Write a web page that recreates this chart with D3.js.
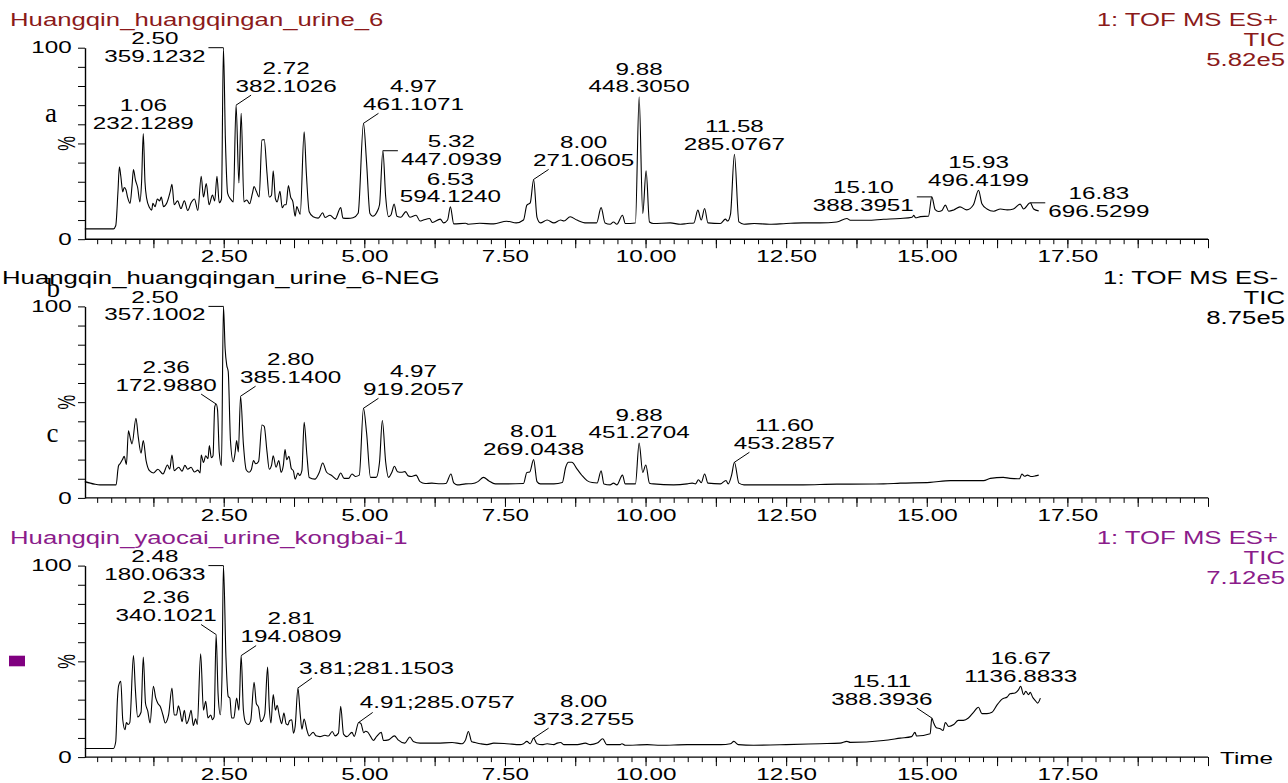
<!DOCTYPE html>
<html>
<head>
<meta charset="utf-8">
<script src="https://cdn.jsdelivr.net/npm/d3@7"></script>
<style>
  body { margin: 0; background: #fff; }
  svg text { font-family: 'Liberation Sans', Arial, Helvetica, sans-serif; }
</style>
</head>
<body>
<script>

// ---- data (retention time in min, % of base peak) ----

const titles = ['Huangqin_huangqingan_urine_6', 'Huangqin_huangqingan_urine_6-NEG', 'Huangqin_yaocai_urine_kongbai-1'];
const scanModes = ['1: TOF MS ES+', '1: TOF MS ES-', '1: TOF MS ES+'];
const traceType = ['TIC', 'TIC', 'TIC'];
const intensities = ['5.82e5', '8.75e5', '7.12e5'];
const letters = [['a'], ['b', 'c'], []];

const xTickValues = [2.5, 5, 7.5, 10, 12.5, 15, 17.5];
const xTickLabels = ['2.50', '5.00', '7.50', '10.00', '12.50', '15.00', '17.50'];
const yTickLabels = ['0', '100'];

const tracePos = [[0.03,5.4],[0.54,5.4],[0.58,7],[0.62,25],[0.645,37.8],[0.67,33],[0.705,24.7],[0.73,27],[0.76,26],[0.79,22],[0.835,18.7],[0.87,28],[0.895,36.4],[0.93,31],[0.97,27],[1.01,19.5],[1.04,30],[1.07,55.2],[1.10,30],[1.13,21.3],[1.18,16.5],[1.22,15.2],[1.24,18.7],[1.28,17],[1.32,21],[1.36,20],[1.39,22],[1.43,17],[1.49,19],[1.55,25],[1.58,28.7],[1.62,18],[1.68,20],[1.74,16],[1.80,20],[1.86,15],[1.92,19],[1.98,21],[2.04,15],[2.10,32.9],[2.14,22],[2.19,29],[2.24,18],[2.30,23],[2.34,20],[2.38,32.9],[2.42,19],[2.46,21],[2.495,100],[2.53,52],[2.57,23.9],[2.62,21],[2.67,19.5],[2.72,70],[2.77,29.4],[2.81,65.7],[2.86,19.5],[2.91,20.5],[2.96,18.5],[3.01,23.9],[3.04,27.5],[3.08,25],[3.13,22],[3.18,51.8],[3.22,52],[3.27,34.3],[3.31,22],[3.35,23],[3.38,35.7],[3.42,21],[3.45,19.5],[3.50,25],[3.54,16.4],[3.58,18],[3.61,18],[3.65,28],[3.69,22],[3.73,19.5],[3.77,12],[3.80,17],[3.83,15],[3.86,13],[3.93,56.1],[3.97,34],[4.02,14.3],[4.09,11.7],[4.18,11],[4.26,13.8],[4.30,11.3],[4.39,12.5],[4.48,10.6],[4.58,16.5],[4.62,11],[4.71,10.9],[4.80,11.2],[4.89,13.5],[4.985,60.5],[5.04,40],[5.10,13.4],[5.15,12],[5.22,14],[5.27,18],[5.33,46.2],[5.38,22],[5.43,11.8],[5.47,12.5],[5.53,18.3],[5.58,12],[5.65,11.5],[5.74,14.4],[5.81,11.5],[5.92,12.5],[5.99,9.5],[6.05,10],[6.16,10.8],[6.21,8.7],[6.35,10.5],[6.41,8.5],[6.48,10],[6.53,16.9],[6.59,8.0],[6.8,8.3],[6.85,7.8],[7.05,8.3],[7.3,8],[7.53,9.4],[7.7,8.5],[7.83,10],[7.89,17.8],[7.95,19],[8.01,31.2],[8.07,11.4],[8.13,8.5],[8.25,10],[8.37,8.5],[8.49,10],[8.55,9.5],[8.66,11.7],[8.78,10],[8.95,8.5],[9.13,8.5],[9.21,16.5],[9.28,8.5],[9.37,7.8],[9.43,9],[9.49,7.8],[9.59,12.5],[9.64,8.2],[9.82,8.5],[9.886,74.4],[9.95,13.4],[10.01,35.7],[10.07,9],[10.14,8.2],[10.44,8.5],[10.62,7.8],[10.74,8.2],[10.86,8.5],[10.93,15.2],[10.99,10],[11.05,16],[11.11,8.5],[11.33,8.2],[11.42,10.5],[11.46,9.5],[11.51,13],[11.58,44.3],[11.66,9],[11.75,7.8],[11.93,8.2],[12.2,7.8],[12.5,8.2],[12.8,8.5],[13.1,8.5],[13.4,9],[13.58,10.8],[13.64,9.9],[13.94,9.9],[14.23,10.4],[14.53,10.8],[14.74,11.5],[14.77,12.5],[14.80,11.2],[14.89,11.8],[15.03,12],[15.09,22.1],[15.15,15.4],[15.21,14.5],[15.27,15],[15.33,17.8],[15.39,14.6],[15.48,15.3],[15.59,16.9],[15.71,15.3],[15.83,18],[15.92,25.6],[15.98,18.5],[16.07,15.8],[16.19,14.6],[16.31,15.8],[16.43,15.3],[16.54,15.8],[16.66,18.3],[16.72,15.8],[16.84,19],[16.90,15.8],[16.99,14.8]];

const traceNeg = [[0.03,8.5],[0.2,7.2],[0.3,6.8],[0.587,6.8],[0.62,15],[0.63,16.8],[0.66,18],[0.70,20],[0.73,21.7],[0.77,17.5],[0.806,35.1],[0.84,31],[0.87,28.2],[0.94,41.6],[0.98,32],[1.03,23.4],[1.07,29.9],[1.12,19.5],[1.18,14.2],[1.25,13],[1.33,15],[1.42,12.5],[1.5,17.2],[1.54,15],[1.58,22.4],[1.62,14.2],[1.70,16],[1.76,14],[1.81,17],[1.86,15],[1.92,16],[1.98,13.5],[2.04,14.5],[2.08,13],[2.10,22.4],[2.14,18.5],[2.18,22],[2.22,20.5],[2.245,27.3],[2.28,21],[2.31,22],[2.34,47.5],[2.365,49],[2.39,46],[2.42,24],[2.46,16.8],[2.495,100],[2.525,78],[2.555,69.1],[2.58,66],[2.62,30],[2.67,18.9],[2.70,23],[2.73,29.9],[2.76,24],[2.80,53.1],[2.85,28],[2.90,14.7],[2.95,13.4],[2.99,14.7],[3.03,19.5],[3.07,17.8],[3.12,19],[3.18,38.1],[3.22,37.4],[3.27,24],[3.31,15],[3.35,17],[3.38,22],[3.43,16],[3.48,19.5],[3.52,13.4],[3.56,17],[3.59,25.2],[3.62,20],[3.66,21.7],[3.70,15.5],[3.74,14],[3.77,9.8],[3.82,13],[3.85,11.7],[3.89,14.2],[3.93,39.5],[3.98,22],[4.02,10.7],[4.12,9.8],[4.20,13.4],[4.26,18.2],[4.33,13.4],[4.42,11.7],[4.51,9.6],[4.58,13],[4.64,10.2],[4.72,10.2],[4.78,12.5],[4.84,11.2],[4.91,11.9],[4.985,46.8],[5.04,34],[5.11,10.7],[5.21,10.7],[5.27,18.6],[5.32,40.4],[5.38,18.6],[5.43,10.7],[5.49,13.4],[5.535,16.5],[5.59,13.7],[5.66,13.4],[5.72,13.7],[5.78,11.5],[5.84,11.2],[5.92,11.9],[5.99,8.5],[6.08,7.5],[6.2,7.7],[6.35,7.4],[6.45,7.5],[6.54,12.5],[6.59,7.8],[6.65,6.8],[6.8,7.3],[6.93,7.5],[7.02,8.5],[7.12,10.7],[7.21,9],[7.33,7.3],[7.53,7.3],[7.83,7.5],[7.89,13.3],[7.94,13.5],[8.01,20],[8.07,8.5],[8.13,7.3],[8.37,7.3],[8.52,8],[8.58,16],[8.63,18.6],[8.69,18.6],[8.78,15.2],[8.87,11.7],[8.96,9],[9.05,8],[9.14,7.8],[9.21,14.2],[9.26,7.3],[9.37,6.8],[9.43,7.7],[9.49,6.8],[9.59,11.9],[9.64,7.3],[9.82,7.3],[9.886,28.7],[9.95,13.3],[10.005,17.2],[10.07,7.7],[10.14,7.3],[10.5,6.8],[10.74,7.3],[10.83,7.7],[10.89,7.3],[10.94,9.5],[10.99,8],[11.05,12.5],[11.11,7.7],[11.33,7.3],[11.43,9.1],[11.47,7.3],[11.53,11.9],[11.58,18.6],[11.66,7.7],[11.75,6.8],[12.2,6.8],[12.8,6.8],[13.4,7.2],[13.64,7.2],[14.23,7.3],[14.53,7.7],[15.06,8.1],[15.42,9],[16.01,9],[16.13,10.2],[16.36,10.7],[16.48,10.2],[16.65,10],[16.69,12.5],[16.74,11.3],[16.79,11.9],[16.85,11.2],[16.93,11.5],[16.99,11.9]];

const traceBlank = [[0.03,4.5],[0.54,4.5],[0.58,8],[0.61,30],[0.63,37],[0.67,39.6],[0.705,19.5],[0.745,14.3],[0.77,18],[0.80,17],[0.83,18],[0.895,53],[0.93,35],[0.97,21],[1.03,23.4],[1.07,52.3],[1.11,28],[1.15,24],[1.19,17.8],[1.25,37],[1.29,31],[1.33,28],[1.37,26.5],[1.42,22],[1.46,17.8],[1.52,22],[1.58,36.1],[1.62,22],[1.66,22],[1.695,26.8],[1.72,24.5],[1.76,18.5],[1.80,24.5],[1.84,17.5],[1.88,20],[1.92,24.5],[1.96,16.5],[2.00,20],[2.03,17],[2.09,54],[2.14,24.5],[2.18,29.1],[2.22,20.5],[2.27,22],[2.30,19.5],[2.33,21],[2.365,64],[2.40,33],[2.44,22.1],[2.47,43],[2.495,100],[2.54,52],[2.58,31.7],[2.61,30.8],[2.64,20.4],[2.68,20.4],[2.73,30.8],[2.77,24.5],[2.81,53],[2.85,24.5],[2.89,18.1],[2.94,17],[2.98,19],[3.04,39],[3.08,28],[3.12,26],[3.16,18.5],[3.19,19.3],[3.23,22.5],[3.28,47],[3.31,26],[3.34,17.8],[3.38,32.6],[3.42,24.5],[3.45,27],[3.49,21.5],[3.53,17.5],[3.57,23],[3.61,17.3],[3.64,16.8],[3.67,19],[3.71,19.5],[3.74,12.5],[3.77,16],[3.82,36.1],[3.86,22.5],[3.89,14.6],[3.93,19.9],[3.98,14],[4.02,11.1],[4.09,13],[4.14,11.1],[4.21,10.7],[4.30,11.4],[4.36,11],[4.43,13.4],[4.48,11.1],[4.54,12.5],[4.58,26.5],[4.63,12],[4.69,10.7],[4.78,12.9],[4.82,10.8],[4.90,18.1],[4.94,17.5],[4.99,12.7],[5.02,13.5],[5.06,13],[5.11,10.8],[5.16,8.7],[5.22,10.8],[5.30,12.9],[5.34,8.7],[5.43,9],[5.535,11.1],[5.60,9],[5.72,7.3],[5.81,10.5],[5.87,8.2],[5.99,7.3],[6.17,7.3],[6.29,7.3],[6.56,7.6],[6.74,7],[6.80,9],[6.85,13.4],[6.91,8],[6.97,7.6],[7.06,7],[7.18,6.5],[7.3,7.3],[7.53,7],[7.77,6.5],[7.83,7],[7.89,8.2],[7.95,7],[8.01,9.9],[8.07,7],[8.16,6.5],[8.25,7],[8.37,6.5],[8.43,7.3],[8.49,7.6],[8.55,6.5],[8.79,6.5],[8.93,7.3],[9.02,6.5],[9.14,7.3],[9.24,9.6],[9.31,6.5],[9.55,6.5],[9.58,7],[9.64,6.2],[10.03,6.5],[10.27,6.2],[10.74,6.5],[11.04,6.5],[11.34,6.5],[11.51,7],[11.57,8.2],[11.65,6.5],[11.92,6.2],[12.5,6.5],[13.1,7],[13.46,7.3],[13.58,8.2],[13.64,7.7],[14.23,8.7],[14.53,9.9],[14.73,10.7],[14.79,12.9],[14.82,11],[15.06,12.2],[15.09,20.4],[15.12,18],[15.17,15.3],[15.24,14.8],[15.29,13.9],[15.33,18.1],[15.39,16],[15.48,17],[15.56,19.2],[15.65,19.2],[15.74,20.4],[15.83,23.4],[15.92,26],[15.98,22.7],[16.07,22.7],[16.16,23.4],[16.25,27.3],[16.34,30.3],[16.43,31.4],[16.48,33.1],[16.57,33.5],[16.63,35.1],[16.67,37],[16.72,32.6],[16.76,34.3],[16.81,32.6],[16.84,33.8],[16.88,31.4],[16.93,29.5],[16.97,28.2],[17.02,30.8]];

// peak labels: [rt text, m/z text, rt, %]
const peaksPos = [['1.06','232.1289',1.07,55.2],['2.50','359.1232',2.495,100],['2.72','382.1026',2.72,70],['4.97','461.1071',4.985,60.5],['5.32','447.0939',5.33,46.2],['6.53','594.1240',6.53,16.9],['8.00','271.0605',8.01,31.2],['9.88','448.3050',9.886,74.4],['11.58','285.0767',11.58,44.3],['15.10','388.3951',15.09,22.1],['15.93','496.4199',15.92,25.6],['16.83','696.5299',16.84,19]];
const peaksNeg = [['2.50','357.1002',2.495,100],['2.36','172.9880',2.365,49],['2.80','385.1400',2.80,53.1],['4.97','919.2057',4.985,46.8],['8.01','269.0438',8.01,20],['9.88','451.2704',9.886,28.7],['11.60','453.2857',11.58,18.6]];
const peaksBlank = [['2.48','180.0633',2.495,100],['2.36','340.1021',2.365,64],['2.81','194.0809',2.81,53],['3.81','281.1503',3.82,36.1],['4.91','285.0757',4.90,18.1],['8.00','373.2755',8.01,9.9],['15.11','388.3936',15.09,20.4],['16.67','1136.8833',16.67,37]];

// how each label hangs off its peak
const leadPos = ['top','L','UR','UR','R','top','UR','top','top','L','top','R'];
const leadNeg = ['L','UL','UR','UR','top','top','UR'];
const leadBlank = ['L','UL','UR','UR1','UR1','UR','UL','top'];

// ---- layout ----

const W = 1288, H = 783;
const SX = 1.47;           // text in the source is stretched sideways
const panelTops = [47.7, 306.4, 565.6];
const panelH = 191.5;
const axisX = 85;
const titleX = [10, 2, 10];
const colors = ['#8b1a1a', '#000000', '#8b1c8b'];
const letterPos = [[[45,122]], [[46.5,297],[46.5,442]], []];

const panels = [
  {trace: tracePos, peaks: peaksPos, leads: leadPos},
  {trace: traceNeg, peaks: peaksNeg, leads: leadNeg},
  {trace: traceBlank, peaks: peaksBlank, leads: leadBlank}
];

const svg = d3.select('body').append('svg')
  .attr('width', W)
  .attr('height', H)
  .style('display', 'block');

const x = d3.scaleLinear().domain([0, 20]).range([83.1, 1208]);

function stext(parent, str, tx, ty, anchor, size, fill){
  return parent.append('text')
    .attr('transform', 'translate(' + tx + ',' + ty + ') scale(' + SX + ',1)')
    .attr('text-anchor', anchor)
    .attr('font-size', size)
    .attr('fill', fill || '#000')
    .text(str);
}

function leader(g, x1, y1, x2, y2){
  g.append('line')
    .attr('x1', x1).attr('y1', y1)
    .attr('x2', x2).attr('y2', y2)
    .attr('stroke', '#000')
    .attr('stroke-width', 1);
}

function annotate(g, y, peaks, leads){
  const lh = 17.7;
  peaks.forEach((p, k) => {
    const [rt, mz, t, v] = p;
    const lead = leads[k];
    const px = x(t), py = y(v);
    let cx, b2;

    if (lead === 'top') {
      cx = px; b2 = py - 4.5;
    } else if (lead === 'L' || lead === 'R') {
      const s = lead === 'L' ? -1 : 1;
      const ex = px + 15 * s;
      leader(g, px, py, ex, py);
      const tmp = stext(g, mz, 0, -50, 'middle', 16.5);
      const w = tmp.node().getComputedTextLength() * SX;
      tmp.remove();
      cx = ex + s * (3 + w / 2);
      b2 = py + 14;
    } else if (lead === 'UR' || lead === 'UL') {
      const s = lead === 'UR' ? 1 : -1;
      const ex = px + 15 * s, ey = py - 10;
      leader(g, px, py, ex, ey);
      cx = ex + 35 * s;
      b2 = ey - 3.5;
    } else if (lead === 'UR1') {
      leader(g, px, py, px + 14, py - 10);
      stext(g, rt + ';' + mz, px + 1, py - 14, 'start', 16.5);
      return;
    }
    stext(g, rt, cx, b2 - lh, 'middle', 16.5);
    stext(g, mz, cx, b2, 'middle', 16.5);
  });
}

const line = d3.line()
  .x(d => x(d[0]))
  .curve(d3.curveMonotoneX);

panels.forEach((p, i) => {
  const top = panelTops[i], bottom = top + panelH;
  const y = d3.scaleLinear().domain([0, 100]).range([bottom, top]);
  const g = svg.append('g').attr('class', 'panel');

  // trace
  g.append('path')
    .datum(p.trace)
    .attr('d', line.y(d => y(d[1])))
    .attr('fill', 'none')
    .attr('stroke', '#000')
    .attr('stroke-width', 1.1)
    .attr('stroke-linejoin', 'round');

  // x axis: small ticks every 0.25 min, longer every 1.25 min
  const xMinor = g.append('g')
    .attr('transform', 'translate(0,' + bottom + ')')
    .call(d3.axisBottom(x)
      .tickValues(d3.range(0.25, 20.01, 0.25))
      .tickSize(5)
      .tickSizeOuter(0)
      .tickFormat(''));
  xMinor.select('.domain').remove();

  const xMajor = g.append('g')
    .attr('transform', 'translate(0,' + bottom + ')')
    .call(d3.axisBottom(x)
      .tickValues(d3.range(1.25, 20.01, 1.25))
      .tickSize(9)
      .tickPadding(2)
      .tickSizeOuter(0)
      .tickFormat(d => {
        const k = xTickValues.findIndex(v => Math.abs(v - d) < 1e-6);
        return k >= 0 ? xTickLabels[k] : '';
      }))
    .attr('font-size', 16.5);
  xMajor.select('.domain').remove();
  xMajor.selectAll('text').attr('fill', '#000').attr('transform', 'scale(' + SX + ',1)');
  g.selectAll('.tick line').attr('stroke', '#000').attr('stroke-width', 1);

  g.append('line')
    .attr('x1', axisX).attr('x2', x(20))
    .attr('y1', bottom).attr('y2', bottom)
    .attr('stroke', '#000')
    .attr('stroke-width', 1.4);

  // y axis
  const yAxis = g.append('g')
    .attr('transform', 'translate(' + axisX + ',0)')
    .call(d3.axisLeft(y)
      .tickValues(d3.range(0, 101, 10))
      .tickSize(7)
      .tickSizeOuter(0)
      .tickFormat(d => d === 0 ? yTickLabels[0] : d === 100 ? yTickLabels[1] : ''))
    .attr('font-size', 16.5);
  yAxis.select('.domain').attr('stroke', '#000').attr('stroke-width', 1.4);
  yAxis.selectAll('.tick line').attr('stroke', '#000');
  yAxis.selectAll('text')
    .attr('fill', '#000')
    .attr('x', -13.3 / SX)
    .attr('transform', 'scale(' + SX + ',1)');

  g.append('text')
    .attr('transform', 'translate(66,' + y(50) + ') scale(' + SX + ',1) rotate(-90)')
    .attr('text-anchor', 'middle')
    .attr('dominant-baseline', 'central')
    .attr('font-size', 16.5)
    .text('%');

  // header texts
  stext(g, titles[i], titleX[i], top - 22, 'start', 17.5, colors[i]);
  stext(g, scanModes[i], 1278, top - 22, 'end', 17.5, colors[i]);
  stext(g, traceType[i], 1285, top - 2, 'end', 17.5, colors[i]);
  stext(g, intensities[i], 1285, top + 18, 'end', 17.5, colors[i]);

  letters[i].forEach((l, k) => {
    g.append('text')
      .attr('x', letterPos[i][k][0])
      .attr('y', letterPos[i][k][1])
      .style('font-family', "'Liberation Serif', 'Times New Roman', serif")
      .attr('font-size', 27)
      .text(l);
  });

  annotate(g, y, p.peaks, p.leads);
});

// purple marker beside the blank trace
svg.append('rect')
  .attr('x', 9).attr('y', 655.7)
  .attr('width', 16).attr('height', 10.6)
  .attr('fill', '#800080');

stext(svg, 'Time', 1220, 763.7, 'start', 16.5);

</script>
</body>
</html>
